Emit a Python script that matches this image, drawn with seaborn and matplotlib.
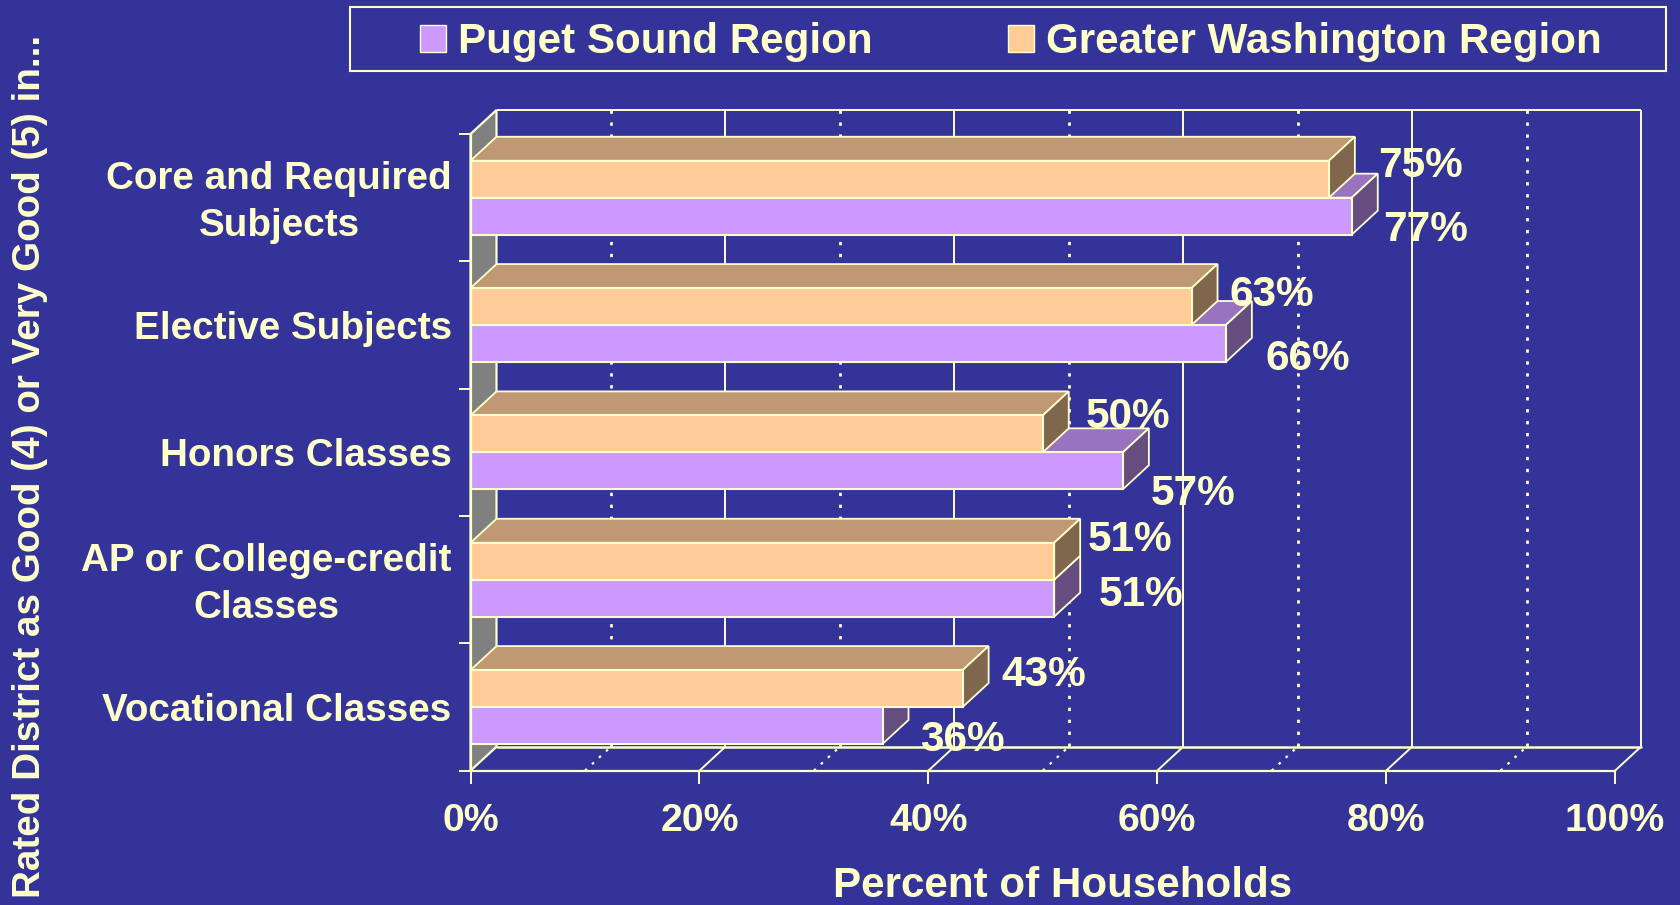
# import packages
import pandas as pd
import matplotlib
matplotlib.use("Agg")
import matplotlib.pyplot as plt
import seaborn as sns
from matplotlib.patches import Patch, Polygon, Rectangle
from matplotlib.transforms import ScaledTranslation

# chart data
items = ["Core and Required\nSubjects", "Elective Subjects", "Honors Classes",
         "AP or College-credit\nClasses", "Vocational Classes"]
puget = [77, 66, 57, 51, 36]
greater = [75, 63, 50, 51, 43]
x_ticks = [0, 20, 40, 60, 80, 100]
dotted_ticks = [10, 30, 50, 70, 90]

# colours
BG = "#333399"
CREAM = "#FFFFCC"
WALL = "#808080"
ORANGE = ("#FFCC99", "#BF9973", "#80664D")  # front, top, side
PURPLE = ("#CC99FF", "#9973BF", "#664D80")

# label nudges in pixels from the end of each bar, the original was hand placed
greater_nudge = [(92, -13), (80, -12), (85, -17), (76, -21), (81, -14)]
puget_nudge = [(74, 14), (82, 16), (70, 23), (87, -3), (80, 15)]

sns.set_theme(style="white")
plt.rcParams["font.family"] = ["Liberation Sans", "DejaVu Sans"]
plt.rcParams["font.weight"] = "bold"

W, H = 1680, 905
fig = plt.figure(figsize=(W / 100, H / 100), dpi=100, facecolor=BG)
ax = fig.add_axes([470.5 / W, 1 - 770.7 / H, (1615 - 470.5) / W, (770.7 - 134) / H], facecolor=BG)

df = pd.DataFrame({
    "item": items * 2,
    "pct": greater + puget,
    "region": ["Greater Washington Region"] * 5 + ["Puget Sound Region"] * 5,
})
sns.barplot(data=df, y="item", x="pct", hue="region",
            hue_order=["Greater Washington Region", "Puget Sound Region"],
            palette=[ORANGE[0], PURPLE[0]], width=0.58, gap=0, legend=False, saturation=1,
            edgecolor=CREAM, linewidth=1.5, ax=ax)

ax.set_xlim(0, 100)
ax.set_ylim(4.5, -0.5)

# depth of the fake 3d box, in data units
dx = 26 / (1144.5 / 100)
dy = 24 / (636.7 / 5)
top = -0.5 - dy
floor = 4.5 - dy
line = dict(color=CREAM, lw=1.4, clip_on=False, solid_capstyle="butt")
dots = dict(color=CREAM, lw=2.0, clip_on=False, linestyle=(0, (1.2, 3.1)))

# walls and grid
ax.add_patch(Polygon([(0, -0.5), (dx, top), (dx, floor), (0, 4.5)], facecolor=WALL,
                     edgecolor=CREAM, lw=1.6, clip_on=False, zorder=0.5))
for t in x_ticks[1:]:
    ax.plot([t + dx, t + dx], [top, floor], zorder=0.7, **line)
    ax.plot([t, t + dx], [4.5, floor], zorder=0.7, **line)
for t in dotted_ticks:
    ax.plot([t + dx, t + dx], [top, floor], zorder=0.7, **dots)
    ax.plot([t, t + dx], [4.5, floor], zorder=0.7, color=CREAM, lw=1.6, clip_on=False,
            linestyle=(0, (1.2, 3.1)))
ax.plot([dx, 100 + dx], [top, top], zorder=0.7, **line)
ax.plot([dx, 100 + dx], [floor, floor], zorder=0.7, color=CREAM, lw=1.8, clip_on=False)

# bars: seaborn draws the front faces, the top and side are worked out from them
for container, cols, base in [(ax.containers[1], PURPLE, 2), (ax.containers[0], ORANGE, 3)]:
    for bar in container:
        x1 = bar.get_width()
        y0 = bar.get_y()
        y1 = y0 + bar.get_height()
        bar.set_zorder(base + 0.2)
        top_face = [(0, y0), (dx, y0 - dy), (x1 + dx, y0 - dy), (x1, y0)]
        side_face = [(x1, y0), (x1 + dx, y0 - dy), (x1 + dx, y1 - dy), (x1, y1)]
        ax.add_patch(Polygon(top_face, facecolor=cols[1], edgecolor=CREAM, lw=1.3,
                             clip_on=False, zorder=base))
        ax.add_patch(Polygon(side_face, facecolor=cols[2], edgecolor=CREAM, lw=1.3,
                             clip_on=False, zorder=base + 0.1))

# data labels
for container, values, nudge in [(ax.containers[0], greater, greater_nudge),
                                 (ax.containers[1], puget, puget_nudge)]:
    for bar, val, (nx, ny) in zip(container, values, nudge):
        ax.annotate(f"{val}%", (bar.get_width(), bar.get_y() + bar.get_height() / 2),
                    xytext=(nx, -ny), textcoords="offset pixels", ha="center", va="center",
                    fontsize=30.5, color=CREAM, fontweight="bold", zorder=6, annotation_clip=False)

# axes, ticks, labels
sns.despine(ax=ax, top=True, right=True)
for side in ["left", "bottom"]:
    ax.spines[side].set_color(CREAM)
    ax.spines[side].set_linewidth(1.6)
    ax.spines[side].set_zorder(5)
ax.set_xticks(x_ticks)
ax.set_xticklabels([f"{t}%" for t in x_ticks])
ax.tick_params(axis="x", colors=CREAM, labelsize=28.3, length=9, width=1.4, pad=14, bottom=True)
ax.set_yticks(range(len(items)))
ax.set_yticklabels(items, multialignment="center", linespacing=1.42)
ax.tick_params(axis="y", which="major", labelcolor=CREAM, labelsize=27.8, length=0, pad=13.5)
ax.set_yticks([i - 0.5 for i in range(len(items) + 1)], minor=True)
ax.tick_params(axis="y", which="minor", color=CREAM, length=9, width=1.4, left=True)

# the two line labels sit a little higher than their group in the original
for label in ax.get_yticklabels():
    if "\n" in label.get_text():
        label.set_transform(label.get_transform() + ScaledTranslation(0, 5 / 100, fig.dpi_scale_trans))

ax.set_xlabel("Percent of Households", fontsize=30.3, color=CREAM, fontweight="bold", va="center")
ax.xaxis.set_label_coords(1063 / W, 1 - 886 / H, transform=fig.transFigure)
ax.set_ylabel("Rated District as Good (4) or Very Good (5) in...", fontsize=27.8, color=CREAM,
              fontweight="bold", va="center")
ax.yaxis.set_label_coords(30 / W, 1 - 466 / H, transform=fig.transFigure)

# legend, box is separate because it is much wider than tall
fig.add_artist(Rectangle((350 / W, 1 - 71 / H), 1316 / W, 64 / H, transform=fig.transFigure,
                         facecolor="none", edgecolor=CREAM, lw=1.5))
handles = [Patch(facecolor=PURPLE[0], edgecolor=CREAM, lw=1, label="Puget Sound Region"),
           Patch(facecolor=ORANGE[0], edgecolor=CREAM, lw=1, label="Greater Washington Region")]
fig.legend(handles=handles, loc="center", bbox_to_anchor=(1011 / W, 1 - 42 / H), ncols=2,
           frameon=False, fontsize=30.3, labelcolor=CREAM, handlelength=0.62, handleheight=0.62,
           handletextpad=0.29, columnspacing=3.2, borderpad=0, borderaxespad=0)

fig.savefig("out.png", dpi=100, facecolor=BG)
